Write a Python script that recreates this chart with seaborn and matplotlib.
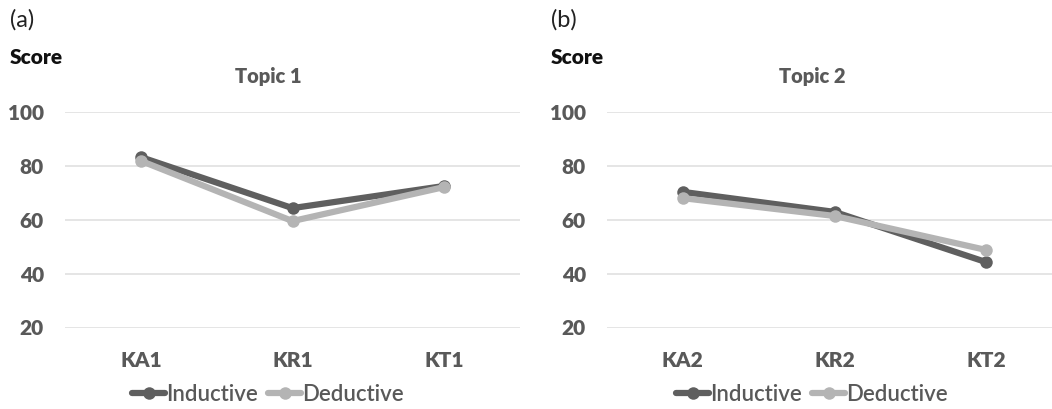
import matplotlib
matplotlib.use('Agg')

import matplotlib.pyplot as plt
import pandas as pd
import seaborn as sns
from matplotlib.lines import Line2D

# values
topic1_tasks = ['KA1', 'KR1', 'KT1']
topic1_inductive = [83.3, 64.4, 72.6]
topic1_deductive = [81.9, 59.6, 72.2]

topic2_tasks = ['KA2', 'KR2', 'KT2']
topic2_inductive = [70.4, 63.0, 44.4]
topic2_deductive = [68.1, 61.5, 48.9]

groups = ['Inductive', 'Deductive']
yticks = [20, 40, 60, 80, 100]

DARK = '#5f5f5f'
LIGHT = '#b4b4b4'
TICK = '#595959'

sns.set_style('white')
plt.rcParams['font.family'] = ['Lato', 'DejaVu Sans']
plt.rcParams['font.weight'] = 'heavy'


def make_frame(tasks, inductive, deductive):
	rows = []
	for g, vals in zip(groups, [inductive, deductive]):
		for t, v in zip(tasks, vals):
			rows.append({'Task': t, 'Method': g, 'Score': v})
	return pd.DataFrame(rows)


def draw_panel(fig, rect, tasks, inductive, deductive, title, tag, tag_x, title_x):
	ax = fig.add_axes(rect)
	df = make_frame(tasks, inductive, deductive)

	sns.lineplot(
		data=df, x='Task', y='Score', hue='Method',
		hue_order=groups, palette=[DARK, LIGHT],
		marker='o', markersize=9, markeredgewidth=0,
		linewidth=4.5, sort=False, legend=False, ax=ax)

	ax.set_ylim(20, 100)
	ax.set_xlim(-0.5, 2.5)
	ax.set_yticks(yticks)
	ax.set_xticks(range(len(tasks)), tasks)
	ax.yaxis.grid(True, color='#e3e3e3', linewidth=1.3)
	ax.xaxis.grid(False)
	for s in ax.spines.values():
		s.set_visible(False)
	ax.tick_params(axis='y', length=0, labelleft=False)
	ax.tick_params(axis='x', length=0, pad=16, labelsize=15, labelcolor=TICK)
	ax.set_xlabel('')
	ax.set_ylabel('')

	# y tick labels as bold text (tick label weight was not sticking)
	for v in yticks:
		ax.text(-21 / 455, v, str(v), transform=ax.get_yaxis_transform(),
			ha='right', va='center', fontsize=15, fontweight='heavy', color=TICK)

	# panel tag, axis title and chart title
	fig.text(tag_x, 1 - 20 / 410, tag, fontsize=17, fontweight='normal',
		color='#222222', va='center')
	fig.text(tag_x, 1 - 57 / 410, 'Score', fontsize=15, fontweight='heavy',
		color='#111111', va='center')
	fig.text(title_x, 1 - 77 / 410, title, fontsize=14.5, fontweight='heavy',
		color=TICK, va='center', ha='center')

	handles = [
		Line2D([], [], color=DARK, linewidth=4.5, marker='o', markersize=9, markeredgewidth=0),
		Line2D([], [], color=LIGHT, linewidth=4.5, marker='o', markersize=9, markeredgewidth=0),
	]
	fig.legend(
		handles, groups, loc='center', bbox_to_anchor=(title_x, 1 - 395 / 410),
		ncol=2, frameon=False, handlelength=1.5, handletextpad=0.05,
		columnspacing=0.45, prop={'family': 'Lato', 'size': 16, 'weight': 'semibold'},
		labelcolor=TICK)
	return ax


fig = plt.figure(figsize=(10.52, 4.10), dpi=100)

draw_panel(fig, [65 / 1052, 81 / 410, 455 / 1052, 216 / 410],
	topic1_tasks, topic1_inductive, topic1_deductive,
	'Topic 1', '(a)', 10 / 1052, 268 / 1052)
draw_panel(fig, [607 / 1052, 81 / 410, 455 / 1052, 216 / 410],
	topic2_tasks, topic2_inductive, topic2_deductive,
	'Topic 2', '(b)', 551 / 1052, 812 / 1052)

plt.savefig('out.png', dpi=100)
plt.close()
